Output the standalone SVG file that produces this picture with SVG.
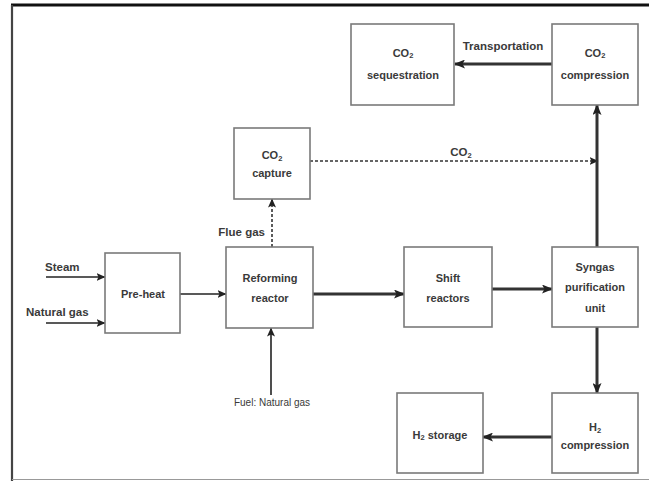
<svg xmlns="http://www.w3.org/2000/svg" width="649" height="481" viewBox="0 0 649 481">
<defs>
<marker id="ah" markerUnits="userSpaceOnUse" markerWidth="11" markerHeight="9" refX="10" refY="4.5" orient="auto">
<path d="M0,0 L11,4.5 L0,9 L2.5,4.5 Z" fill="#222"/>
</marker>
<marker id="ahs" markerUnits="userSpaceOnUse" markerWidth="9" markerHeight="8" refX="8.5" refY="4" orient="auto">
<path d="M0,0 L9,4 L0,8 L2,4 Z" fill="#222"/>
</marker>
</defs>
<style>
.box{fill:#fff;stroke:#7a7a7a;stroke-width:1.6}
.t{font-family:"Liberation Sans",Arial,sans-serif;font-size:11px;font-weight:bold;fill:#3a3a3a;text-anchor:middle}
.lbl{font-family:"Liberation Sans",Arial,sans-serif;font-size:11.5px;font-weight:bold;fill:#3a3a3a}
.thin{stroke:#222;stroke-width:1.6;fill:none;marker-end:url(#ahs)}
.thick{stroke:#333;stroke-width:3;fill:none;marker-end:url(#ah)}
.dash{stroke:#333;stroke-width:1.6;fill:none;stroke-dasharray:3 2;marker-end:url(#ahs)}
.sub{font-size:7.5px}
</style>
<rect width="649" height="481" fill="#fff"/>
<g id="frame">
<line x1="11" y1="5" x2="649" y2="5" stroke="#111" stroke-width="3"/>
<line x1="12" y1="5" x2="12" y2="481" stroke="#444" stroke-width="2.2"/>
<line x1="12" y1="479.5" x2="649" y2="479.5" stroke="#999" stroke-width="1.2"/>
</g>
<g id="connectors">
<line class="thin" x1="46" y1="277" x2="105" y2="277"/>
<line class="thin" x1="46" y1="323" x2="105" y2="323"/>
<line class="thin" x1="180" y1="294" x2="226" y2="294"/>
<line class="thick" x1="313" y1="294" x2="404" y2="294"/>
<line class="thick" x1="492" y1="289" x2="552" y2="289"/>
<line class="thick" x1="597" y1="327" x2="597" y2="393"/>
<line class="thick" x1="552" y1="437" x2="483" y2="437"/>
<line class="thin" x1="271" y1="395" x2="271" y2="328"/>
<line class="dash" x1="272" y1="247" x2="272" y2="199"/>
<line class="dash" x1="310" y1="161" x2="598" y2="161"/>
<line class="thick" x1="597" y1="247" x2="597" y2="105"/>
<line class="thick" x1="552" y1="64" x2="455" y2="64"/>
<text class="lbl" x="45" y="271">Steam</text>
<text class="lbl" x="26" y="316">Natural gas</text>
<text class="lbl" x="265" y="236" text-anchor="end">Flue gas</text>
<text class="lbl" x="503" y="50" text-anchor="middle">Transportation</text>
<text class="lbl" x="461" y="156" text-anchor="middle">CO<tspan class="sub" dy="2">2</tspan></text>
<text class="lbl" x="272" y="406" text-anchor="middle" style="font-size:10px;font-weight:normal">Fuel: Natural gas</text>
</g>
<g id="co2-sequestration">
<rect class="box" x="351" y="24" width="103" height="81"/>
<text class="t" x="403" y="57">CO<tspan class="sub" dy="1">2</tspan></text>
<text class="t" x="403" y="79">sequestration</text>
</g>
<g id="co2-compression">
<rect class="box" x="552" y="24" width="86" height="81"/>
<text class="t" x="595" y="57">CO<tspan class="sub" dy="1">2</tspan></text>
<text class="t" x="595" y="79">compression</text>
</g>
<g id="co2-capture">
<rect class="box" x="234" y="128" width="76" height="71"/>
<text class="t" x="272" y="159">CO<tspan class="sub" dy="2">2</tspan></text>
<text class="t" x="272" y="177">capture</text>
</g>
<g id="pre-heat">
<rect class="box" x="105" y="253" width="75" height="80"/>
<text class="t" x="143" y="298">Pre-heat</text>
</g>
<g id="reforming-reactor">
<rect class="box" x="226" y="247" width="87" height="81"/>
<text class="t" x="270" y="282">Reforming</text>
<text class="t" x="270" y="302">reactor</text>
</g>
<g id="shift-reactors">
<rect class="box" x="404" y="247" width="88" height="80"/>
<text class="t" x="448" y="282">Shift</text>
<text class="t" x="448" y="302">reactors</text>
</g>
<g id="syngas-purification">
<rect class="box" x="552" y="247" width="86" height="80"/>
<text class="t" x="595" y="271">Syngas</text>
<text class="t" x="595" y="291">purification</text>
<text class="t" x="595" y="312">unit</text>
</g>
<g id="h2-compression">
<rect class="box" x="552" y="393" width="86" height="80"/>
<text class="t" x="595" y="431">H<tspan class="sub" dy="2">2</tspan></text>
<text class="t" x="595" y="449">compression</text>
</g>
<g id="h2-storage">
<rect class="box" x="397" y="393" width="86" height="80"/>
<text class="t" x="440" y="439">H<tspan class="sub" dy="1">2</tspan><tspan dy="-1"> storage</tspan></text>
</g>
</svg>
